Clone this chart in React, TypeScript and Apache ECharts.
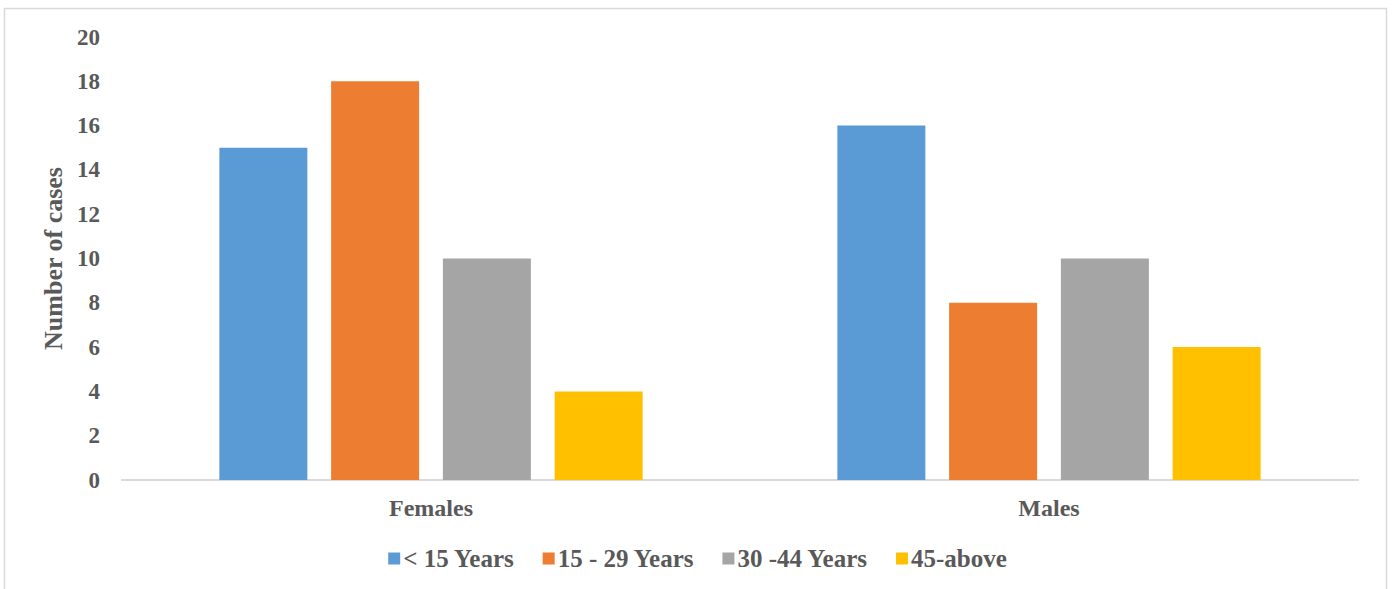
import React, { useEffect, useRef } from "react";
import * as echarts from "echarts";

const categories = ["Females", "Males"];
const seriesNames = ["< 15 Years", "15 - 29 Years", "30 -44 Years", "45-above"];
const under15 = [15, 16];
const age15to29 = [18, 8];
const age30to44 = [10, 10];
const age45above = [4, 6];
const colors = ["#5B9BD5", "#ED7D31", "#A5A5A5", "#FFC000"];

const FONT = "'Liberation Serif', 'Times New Roman', serif";
const TXT = "#595959";

export default function App() {
  const ref = useRef<HTMLDivElement>(null);
  useEffect(() => {
    if (!ref.current) return;
    const chart = echarts.init(ref.current, undefined, { renderer: "svg" });
    const values = [under15, age15to29, age30to44, age45above];
    chart.setOption({
      animation: false,
      color: colors,
      textStyle: { fontFamily: FONT },
      grid: { left: 122, right: 37, top: 37, bottom: 109, containLabel: false },
      legend: {
        data: seriesNames,
        bottom: 13,
        left: "center",
        itemWidth: 12,
        itemHeight: 12,
        itemGap: 28,
        icon: "rect",
        textStyle: { fontFamily: FONT, fontSize: 25, fontWeight: "bold", color: TXT, padding: [0, 0, 0, -2] },
      },
      xAxis: {
        type: "category",
        data: categories,
        axisLine: { show: true, lineStyle: { color: "#D9D9D9", width: 2 } },
        axisTick: { show: false },
        axisLabel: { fontFamily: FONT, fontSize: 24, fontWeight: "bold", color: TXT, margin: 16 },
      },
      yAxis: {
        type: "value",
        min: 0,
        max: 20,
        interval: 2,
        name: "Number of cases",
        nameLocation: "middle",
        nameGap: 56,
        nameTextStyle: { fontFamily: FONT, fontSize: 26, fontWeight: "bold", color: TXT },
        axisLine: { show: false },
        axisTick: { show: false },
        splitLine: { show: false },
        axisLabel: { fontFamily: FONT, fontSize: 23, fontWeight: "bold", color: TXT, margin: 22 },
      },
      graphic: [
        {
          type: "rect",
          shape: { x: 4.5, y: 8.5, width: 1382, height: 600 },
          style: { fill: "none", stroke: "#D9D9D9", lineWidth: 1.5 },
          silent: true,
        },
      ],
      series: seriesNames.map((name, i) => ({
        name,
        type: "bar",
        data: values[i],
        barWidth: 88,
        barGap: "27%",
        itemStyle: { color: colors[i] },
      })),
    });
    return () => chart.dispose();
  }, []);
  return (
    <div
      ref={ref}
      style={{ position: "absolute", left: 0, top: 0, width: 1395, height: 589 }}
    />
  );
}
